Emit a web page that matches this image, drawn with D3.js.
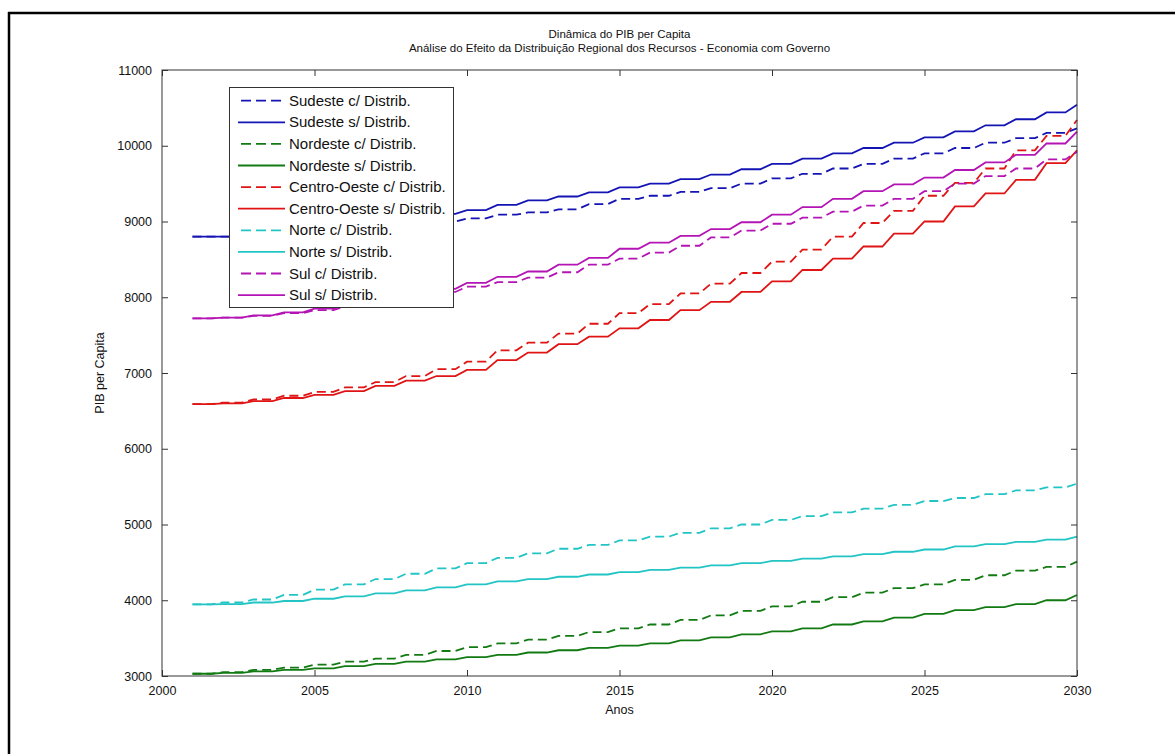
<!DOCTYPE html>
<html><head><meta charset="utf-8">
<script src="https://cdn.jsdelivr.net/npm/d3@7"></script>
<style>
html,body{margin:0;padding:0;background:#fff;overflow:hidden;}
svg{display:block;font-family:"Liberation Sans",Arial,sans-serif;}
</style></head>
<body>
<svg id="chart" width="1175" height="754"></svg>
<script>
const years = d3.range(2001, 2031);
const xTicks = [2000, 2005, 2010, 2015, 2020, 2025, 2030];
const yTicks = [3000, 4000, 5000, 6000, 7000, 8000, 9000, 10000, 11000];

const sudesteCom = [8800,8800,8820,8850,8880,8910,8940,8970,9000,9040,9090,9120,9160,9230,9300,9340,9390,9440,9500,9570,9630,9700,9760,9830,9900,9970,10040,10100,10170,10230];
const sudesteSem = [8800,8800,8830,8870,8910,8950,9000,9050,9100,9150,9220,9280,9330,9385,9450,9500,9560,9620,9690,9760,9830,9900,9970,10040,10110,10190,10270,10350,10440,10540];
const nordesteCom = [3030,3050,3080,3110,3150,3190,3230,3280,3330,3380,3430,3480,3530,3580,3630,3680,3740,3800,3860,3920,3980,4040,4100,4160,4210,4270,4330,4390,4440,4510];
const nordesteSem = [3030,3040,3060,3080,3100,3130,3160,3190,3220,3250,3280,3310,3340,3370,3400,3430,3470,3510,3550,3590,3630,3680,3720,3770,3820,3870,3910,3950,4000,4070];
const centroCom = [6590,6610,6650,6700,6750,6810,6880,6960,7050,7150,7300,7400,7520,7650,7790,7910,8050,8180,8320,8470,8630,8800,8980,9140,9340,9510,9700,9940,10130,10340];
const centroSem = [6590,6600,6630,6670,6710,6760,6830,6900,6960,7040,7170,7270,7380,7480,7590,7700,7830,7940,8070,8210,8360,8510,8670,8840,9000,9200,9370,9550,9770,9940];
const norteCom = [3946,3970,4010,4070,4140,4210,4280,4350,4420,4490,4560,4620,4680,4730,4790,4840,4890,4950,5000,5060,5110,5160,5210,5260,5310,5350,5400,5450,5490,5540];
const norteSem = [3946,3950,3970,3990,4020,4050,4090,4130,4170,4210,4250,4280,4310,4340,4370,4400,4430,4460,4490,4520,4550,4580,4610,4640,4670,4710,4740,4770,4800,4840];
const sulCom = [7720,7730,7755,7790,7830,7880,7940,8000,8070,8140,8200,8260,8330,8430,8510,8590,8680,8790,8880,8970,9050,9130,9210,9300,9400,9500,9600,9700,9820,9920];
const sulSem = [7720,7730,7760,7800,7850,7900,7960,8030,8110,8190,8270,8340,8430,8520,8640,8720,8810,8900,8990,9090,9190,9300,9400,9490,9580,9680,9780,9880,10030,10185];

const seriesNames = ["Sudeste c/ Distrib.","Sudeste s/ Distrib.","Nordeste c/ Distrib.","Nordeste s/ Distrib.","Centro-Oeste c/ Distrib.","Centro-Oeste s/ Distrib.","Norte c/ Distrib.","Norte s/ Distrib.","Sul c/ Distrib.","Sul s/ Distrib."];
const seriesValues = [sudesteCom,sudesteSem,nordesteCom,nordesteSem,centroCom,centroSem,norteCom,norteSem,sulCom,sulSem];
const seriesColors = ["#1414b4","#1414b4","#127a12","#127a12","#e01414","#e01414","#22c4c4","#22c4c4","#b414b4","#b414b4"];
const seriesDashed = [true,false,true,false,true,false,true,false,true,false];

const titleLines = ["Dinâmica do PIB per Capita","Análise do Efeito da Distribuição Regional dos Recursos - Economia com Governo"];

const svg = d3.select("#chart");
const L = 162, R = 1077, T = 70, B = 676;
const x = d3.scaleLinear().domain([2000, 2030]).range([L, R]);
const y = d3.scaleLinear().domain([3000, 11000]).range([B, T]);

// outer frame: only top and left edges are visible in the picture
svg.append("line").attr("x1", 8).attr("x2", 1175).attr("y1", 13).attr("y2", 13).attr("stroke", "#000").attr("stroke-width", 2.5);
svg.append("line").attr("x1", 9).attr("x2", 9).attr("y1", 12).attr("y2", 754).attr("stroke", "#000").attr("stroke-width", 2.5);

// step-with-ramp curve
function StepRamp(context){ this._context = context; }
StepRamp.prototype = {
  areaStart(){ this._line = 0; },
  areaEnd(){ this._line = NaN; },
  lineStart(){ this._x = this._y = NaN; this._point = 0; },
  lineEnd(){ this._line = 1 - this._line; },
  point(px, py){
    px = +px; py = +py;
    if (this._point === 0) { this._point = 1; this._line ? this._context.lineTo(px, py) : this._context.moveTo(px, py); }
    else {
      const xm = this._x + (px - this._x) * 0.62;
      this._context.lineTo(xm, this._y);
      this._context.lineTo(px, py);
    }
    this._x = px; this._y = py;
  }
};
const stepRamp = (ctx) => new StepRamp(ctx);

const line = d3.line().x(d => x(d[0])).y(d => y(d[1])).curve(stepRamp);

const plot = svg.append("g");
seriesValues.forEach((vals, i) => {
  plot.append("path")
    .datum(years.map((yr, k) => [yr, vals[k]]))
    .attr("d", line)
    .attr("fill", "none")
    .attr("stroke", seriesColors[i])
    .attr("stroke-width", 1.8)
    .attr("stroke-dasharray", seriesDashed[i] ? "9,5" : null);
});

// axes box
const axisColor = "#333";
svg.append("rect").attr("x", L).attr("y", T).attr("width", R - L).attr("height", B - T)
  .attr("fill", "none").attr("stroke", axisColor).attr("stroke-width", 1);

const xAxis = d3.axisBottom(x).tickValues(xTicks).tickSizeInner(-6).tickSizeOuter(0).tickPadding(10).tickFormat(d3.format("d"));
const gx = svg.append("g").attr("transform", `translate(0,${B})`).call(xAxis);
const xAxisTop = d3.axisTop(x).tickValues(xTicks).tickSizeInner(-6).tickSizeOuter(0).tickFormat("");
svg.append("g").attr("transform", `translate(0,${T})`).call(xAxisTop);
const yAxis = d3.axisLeft(y).tickValues(yTicks).tickSizeInner(-6).tickSizeOuter(0).tickPadding(10).tickFormat(d3.format("d"));
const gy = svg.append("g").attr("transform", `translate(${L},0)`).call(yAxis);
const yAxisRight = d3.axisRight(y).tickValues(yTicks).tickSizeInner(-6).tickSizeOuter(0).tickFormat("");
svg.append("g").attr("transform", `translate(${R},0)`).call(yAxisRight);

svg.selectAll(".domain").remove();
svg.selectAll(".tick line").attr("stroke", axisColor);
gx.selectAll(".tick text").attr("font-size", 12.5).attr("fill", "#111").attr("font-family", "Liberation Sans, Arial, sans-serif");
gy.selectAll(".tick text").attr("font-size", 12.5).attr("fill", "#111").attr("font-family", "Liberation Sans, Arial, sans-serif");

// labels
svg.append("text").attr("x", (L + R) / 2).attr("y", 714).attr("text-anchor", "middle")
  .attr("font-size", 12.5).attr("fill", "#111").text("Anos");
svg.append("text").attr("transform", `translate(104,${(T + B) / 2}) rotate(-90)`).attr("text-anchor", "middle")
  .attr("font-size", 12.5).attr("fill", "#111").text("PIB per Capita");

titleLines.forEach((t, i) => {
  svg.append("text").attr("x", (L + R) / 2).attr("y", 38 + i * 14).attr("text-anchor", "middle")
    .attr("font-size", 11.5).attr("fill", "#111").text(t);
});

// legend
const lg = svg.append("g");
lg.append("rect").attr("x", 229.5).attr("y", 87.5).attr("width", 224).attr("height", 220)
  .attr("fill", "#fff").attr("stroke", axisColor).attr("stroke-width", 1);
seriesNames.forEach((name, i) => {
  const cy = 100.7 + i * 21.6;
  lg.append("line").attr("x1", seriesDashed[i] ? 241 : 238).attr("x2", 285).attr("y1", cy).attr("y2", cy)
    .attr("stroke", seriesColors[i]).attr("stroke-width", 1.8)
    .attr("stroke-dasharray", seriesDashed[i] ? "10,5" : null);
  lg.append("text").attr("x", 289).attr("y", cy + 5).attr("font-size", 15).attr("fill", "#111").text(name);
});
</script>
</body></html>
